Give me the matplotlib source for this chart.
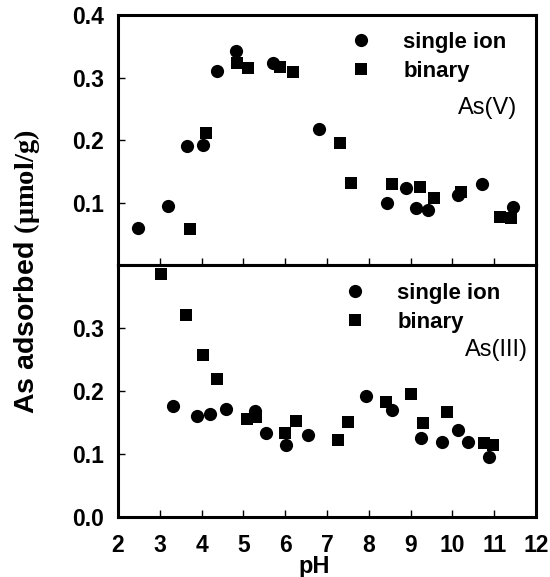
import matplotlib
matplotlib.use("Agg")
import matplotlib.pyplot as plt
from matplotlib.lines import Line2D

plt.rcParams['font.family'] = ['Liberation Sans', 'DejaVu Sans']
plt.rcParams['font.weight'] = 'bold'
plt.rcParams['mathtext.fontset'] = 'custom'
plt.rcParams['mathtext.rm'] = 'Liberation Serif'
plt.rcParams['mathtext.bf'] = 'Liberation Serif:bold'
plt.rcParams['mathtext.it'] = 'Liberation Serif:italic'

# As(V) panel data
asv_single_ph = [2.47, 3.19, 3.65, 4.03, 4.36, 4.82, 5.72, 6.82, 8.44, 8.88, 9.13, 9.42, 10.13, 10.72, 11.46]
asv_single_q = [0.060, 0.095, 0.190, 0.192, 0.311, 0.343, 0.323, 0.218, 0.099, 0.124, 0.091, 0.088, 0.112, 0.130, 0.093]
asv_binary_ph = [3.72, 4.10, 4.85, 5.12, 5.88, 6.18, 7.31, 7.57, 8.56, 9.22, 9.56, 10.21, 11.14, 11.40]
asv_binary_q = [0.058, 0.211, 0.323, 0.315, 0.317, 0.309, 0.195, 0.132, 0.129, 0.125, 0.107, 0.117, 0.077, 0.075]

# As(III) panel data
asiii_single_ph = [3.31, 3.88, 4.20, 4.58, 5.28, 5.54, 6.01, 6.54, 7.93, 8.56, 9.24, 9.74, 10.13, 10.38, 10.88]
asiii_single_q = [0.176, 0.161, 0.164, 0.172, 0.168, 0.133, 0.114, 0.130, 0.192, 0.170, 0.125, 0.119, 0.139, 0.119, 0.095]
asiii_binary_ph = [3.02, 3.62, 4.04, 4.38, 5.08, 5.30, 6.00, 6.27, 7.27, 7.51, 8.41, 9.00, 9.30, 9.86, 10.76, 10.98]
asiii_binary_q = [0.386, 0.321, 0.258, 0.220, 0.156, 0.159, 0.134, 0.153, 0.123, 0.151, 0.183, 0.195, 0.149, 0.167, 0.118, 0.115]

x_ticks = [2, 3, 4, 5, 6, 7, 8, 9, 10, 11, 12]
top_yticks = [0.1, 0.2, 0.3, 0.4]
bot_yticks = [0.0, 0.1, 0.2, 0.3]
legend_labels = ['single ion', 'binary']

fig = plt.figure(figsize=(5.5, 5.77), dpi=100)
ax_top = fig.add_axes([0.2145, 0.5407, 0.76, 0.4333])
ax_bot = fig.add_axes([0.2145, 0.1035, 0.76, 0.4373])

ms_c = 9.5
ms_s = 8.8
tick_fs = 16.5

panels = [
    (ax_top, asv_single_ph, asv_single_q, asv_binary_ph, asv_binary_q, 'As(V)', top_yticks,
     (0.555, 0.933), (0.955, 0.628)),
    (ax_bot, asiii_single_ph, asiii_single_q, asiii_binary_ph, asiii_binary_q, 'As(III)', bot_yticks,
     (0.541, 0.93), (0.98, 0.663)),
]

for ax, sph, sq, bph, bq, tag, yt, leg_anchor, tag_pos in panels:
    ax.plot(sph, sq, 'o', color='black', ms=ms_c, mew=0)
    ax.plot(bph, bq, 's', color='black', ms=ms_s, mew=0)
    ax.set_xlim(2, 12)
    ax.set_ylim(0, 0.4)
    ax.set_xticks(x_ticks)
    ax.set_yticks(yt)
    ax.set_yticklabels([f"{v:.1f}" for v in yt], fontsize=tick_fs, fontweight='bold')
    ax.tick_params(direction='in', length=5, width=1.0, pad=10)
    for s in ax.spines.values():
        s.set_linewidth(2.2)
    handles = [Line2D([], [], marker='o', ls='none', color='black', ms=ms_c, mew=0),
               Line2D([], [], marker='s', ls='none', color='black', ms=ms_s, mew=0)]
    ax.legend(handles, legend_labels, loc='upper left', frameon=False,
              prop={'size': 16, 'weight': 'bold'}, handlelength=1.0,
              handletextpad=1.4, labelspacing=0.38, borderpad=0, borderaxespad=0,
              bbox_to_anchor=leg_anchor)
    ax.text(tag_pos[0], tag_pos[1], tag, transform=ax.transAxes, ha='right', va='center',
            fontsize=17, fontweight='normal')

ax_top.tick_params(labelbottom=False)
ax_bot.set_xticklabels([str(v) for v in x_ticks], fontsize=tick_fs, fontweight='bold')
ax_bot.tick_params(axis='x', pad=12)

fig.text(314 / 550, 1 - 567 / 577, 'pH', ha='center', va='center', fontsize=17, fontweight='bold')

fig.text(27 / 550, 1 - 272 / 577, r'As adsorbed $\mathbf{(\mu mol/g)}$', rotation=90,
         ha='center', va='center', fontsize=20.5, fontweight='bold')

fig.savefig('out.png', dpi=100)
